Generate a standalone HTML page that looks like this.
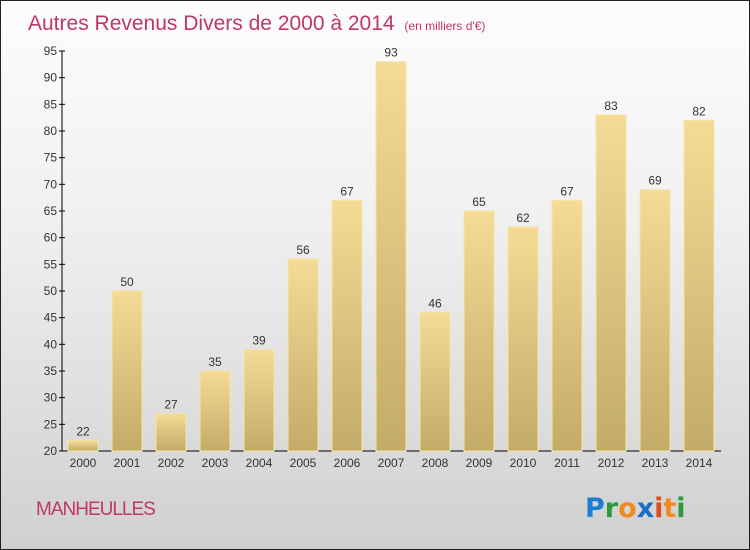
<!DOCTYPE html>
<html><head><meta charset="utf-8"><style>
body{margin:0}
#c{width:750px;height:550px;position:relative;overflow:hidden;box-sizing:border-box;border:1px solid #222;background:linear-gradient(#fdfdfd,#f0f0f0 40%,#d0d0d0);font-family:"Liberation Sans",sans-serif}
</style></head><body>
<div id="c">
<svg width="750" height="550" id="s">
<defs><linearGradient id="bg" x1="0" y1="0" x2="0" y2="1"><stop offset="0" stop-color="#f4db96"/><stop offset="1" stop-color="#c3ab68"/></linearGradient></defs>
<text x="27" y="29" font-size="21" fill="#c0356a">Autres Revenus Divers de 2000 à 2014 <tspan font-size="12" dx="4">(en milliers d'€)</tspan></text>
<text x="35" y="514" font-size="19" fill="#c0356a" letter-spacing="-1">MANHEULLES</text>
<g font-size="27" font-weight="bold" font-family="DejaVu Sans, sans-serif">
<text x="584" y="516"><tspan fill="#1a7fd4">P</tspan><tspan fill="#2a9a3a">r</tspan><tspan fill="#f08a1a">o</tspan><tspan fill="#1a6fc4">x</tspan><tspan fill="#e04a1a">i</tspan><tspan fill="#f08a1a">t</tspan><tspan fill="#2a9a3a">i</tspan></text></g>
<g id="g"></g>
</svg></div>
<script>
const years=["2000","2001","2002","2003","2004","2005","2006","2007","2008","2009","2010","2011","2012","2013","2014"];
const values=[22,50,27,35,39,56,67,93,46,65,62,67,83,69,82];
const yTicks=[20,25,30,35,40,45,50,55,60,65,70,75,80,85,90,95];
const NS="http://www.w3.org/2000/svg",g=document.getElementById('g');
const y=v=>450-(v-20)*400/75, x=i=>82+i*44;
function mk(t,a,txt){const e=document.createElementNS(NS,t);for(const k in a)e.setAttribute(k,a[k]);if(txt!=null)e.textContent=txt;g.appendChild(e);return e;}
let ax=mk('line',{x1:61,y1:50,x2:61,y2:450,stroke:'#000'});


let xx=mk('line',{x1:61,y1:450,x2:720,y2:450,stroke:'#000'});


yTicks.forEach(v=>{
 let t=mk('line',{x1:58,x2:64,y1:y(v),y2:y(v),stroke:'#000'});
 
 
 let l=mk('text',{x:56,y:y(v)+4,'font-size':12,'text-anchor':'end',fill:'#333'},v);
 
 
});
years.forEach((yr,i)=>{
 let b=mk('rect',{x:x(i)-15,y:y(values[i]),width:30,height:450-y(values[i]),fill:'url(#bg)',stroke:'#f7e3a8','stroke-width':1});
 
 
 let v=mk('text',{x:x(i),y:y(values[i])-5,'font-size':12,'text-anchor':'middle',fill:'#333'},values[i]);
 
 
 let l=mk('text',{x:x(i),y:466,'font-size':12,'text-anchor':'middle',fill:'#333'},yr);
 
 
});
</script>
</body></html>
